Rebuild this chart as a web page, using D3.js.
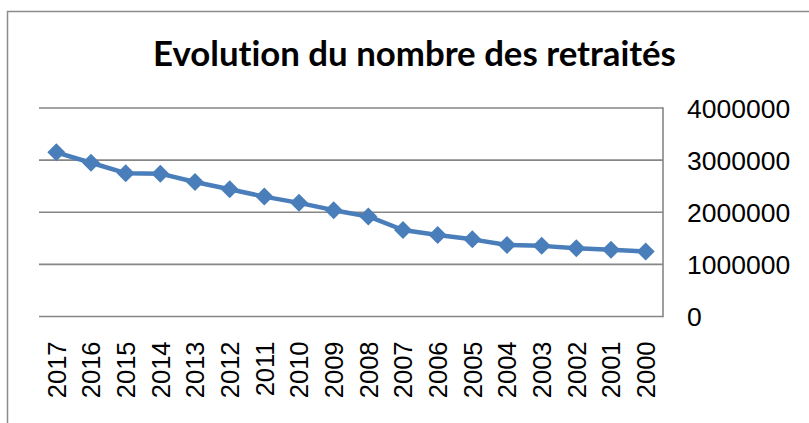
<!DOCTYPE html>
<html>
<head>
<meta charset="utf-8">
<script src="https://cdn.jsdelivr.net/npm/d3@7"></script>
<style>
  html, body { margin: 0; padding: 0; background: #fff; }
  svg { display: block; }
</style>
</head>
<body>
<svg id="chart" width="809" height="423"></svg>
<script>
const titleText = "Evolution du nombre des retraités";
const years = ["2017","2016","2015","2014","2013","2012","2011","2010","2009","2008","2007","2006","2005","2004","2003","2002","2001","2000"];
const retraites = [3150000,2950000,2750000,2740000,2580000,2440000,2300000,2180000,2040000,1920000,1660000,1565000,1480000,1370000,1355000,1310000,1280000,1245000];
const yTicks = [0,1000000,2000000,3000000,4000000];

const svg = d3.select("#chart");
const W = 809, H = 423;
const plot = { left: 39, right: 663, top: 108, bottom: 316.5 };
const grey = "#868686";
const blue = "#4A7EBB";

// chart area border
svg.append("rect")
  .attr("x", 7.5).attr("y", 11.5)
  .attr("width", W + 20).attr("height", H + 20)
  .attr("fill", "#fff").attr("stroke", "#8c8c8c").attr("stroke-width", 1.5);

const x = d3.scaleBand().domain(years).range([plot.left, plot.right]).paddingInner(0).paddingOuter(0);
const y = d3.scaleLinear().domain([0, 4000000]).range([plot.bottom, plot.top]);

// gridlines
svg.append("g").selectAll("line").data(yTicks).join("line")
  .attr("x1", plot.left).attr("x2", plot.right)
  .attr("y1", d => y(d)).attr("y2", d => y(d))
  .attr("stroke", grey).attr("stroke-width", 1.6);

// right vertical border of plot (value axis on right)
svg.append("line")
  .attr("x1", plot.right).attr("x2", plot.right)
  .attr("y1", y(4000000) - 0.8).attr("y2", y(0) + 0.8)
  .attr("stroke", grey).attr("stroke-width", 1.6);

// Y axis labels (right side)
const yAxis = d3.axisRight(y).tickValues(yTicks).tickSize(0).tickPadding(0).tickFormat(d3.format("d"));
const gy = svg.append("g").attr("transform", `translate(${687},0)`).call(yAxis);
gy.select(".domain").remove();
gy.selectAll("text")
  .attr("x", 0).attr("dy", "0.35em")
  .style("font-family", "'Liberation Sans', Arial, sans-serif")
  .style("font-size", "26.5px").attr("fill", "#000");

// X axis labels (rotated)
const xAxis = d3.axisBottom(x).tickSize(0).tickPadding(0);
const gx = svg.append("g").attr("transform", `translate(0,${plot.bottom})`).call(xAxis);
gx.select(".domain").remove();
gx.selectAll("text")
  .attr("transform", "rotate(-90)")
  .attr("x", -25).attr("y", 0).attr("dy", "0.36em")
  .attr("text-anchor", "end")
  .style("font-family", "'Liberation Sans', Arial, sans-serif")
  .style("font-size", "25.5px").attr("fill", "#000");

// line
const line = d3.line().x(d => x(d.year) + x.bandwidth() / 2).y(d => y(d.v));
const pts = years.map((yr, i) => ({ year: yr, v: retraites[i] }));
svg.append("path").datum(pts)
  .attr("d", line).attr("fill", "none")
  .attr("stroke", blue).attr("stroke-width", 4.5).attr("stroke-linejoin", "round");

// diamond markers
const r = 9;
svg.append("g").selectAll("path").data(pts).join("path")
  .attr("d", `M0,${-r}L${r},0L0,${r}L${-r},0Z`)
  .attr("transform", d => `translate(${x(d.year) + x.bandwidth() / 2},${y(d.v)})`)
  .attr("fill", blue);

// title
const t = svg.append("text")
  .attr("x", 414.5).attr("y", 65.5)
  .attr("text-anchor", "middle")
  .style("font-family", "Lato, 'Open Sans', sans-serif")
  .style("font-weight", "bold")
  .style("font-variant-ligatures", "none")
  .style("font-feature-settings", "'liga' 0, 'clig' 0")
  .style("font-size", "30px")
  .attr("fill", "#000")
  .text(titleText);
const len = t.node().getComputedTextLength();
t.style("font-size", (30 * 523 / len) + "px");
</script>
</body>
</html>
